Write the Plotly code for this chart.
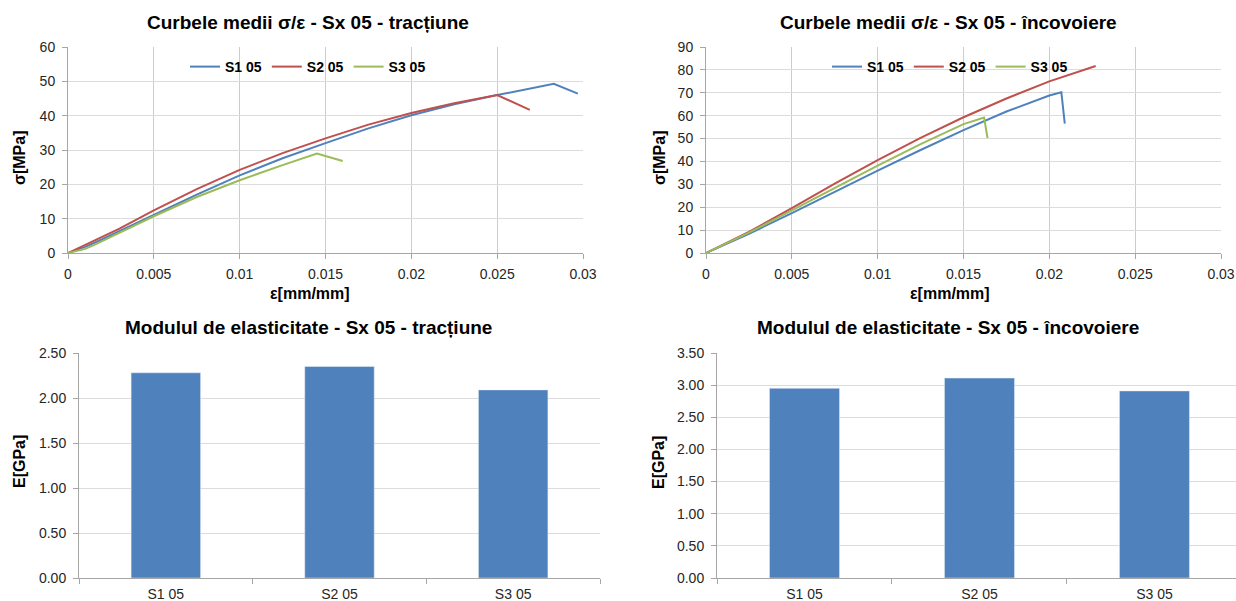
import plotly.graph_objects as go

# tension (tracțiune) curves, strain [mm/mm] vs stress [MPa]
t_s1_x = [0, 0.001, 0.002, 0.003, 0.005, 0.0075, 0.01, 0.0125, 0.015, 0.0175, 0.02, 0.0225, 0.025, 0.0283, 0.0297]
t_s1_y = [0, 1.8, 4.0, 6.4, 11.1, 17.0, 22.6, 27.6, 32.0, 36.3, 40.1, 43.3, 46.0, 49.3, 46.4]
t_s2_x = [0, 0.001, 0.002, 0.003, 0.005, 0.0075, 0.01, 0.0125, 0.015, 0.0175, 0.02, 0.0225, 0.025, 0.0269]
t_s2_y = [0, 2.3, 4.6, 7.1, 12.4, 18.6, 24.2, 29.1, 33.4, 37.4, 40.8, 43.6, 46.0, 41.7]
t_s3_x = [0, 0.001, 0.0015, 0.002, 0.003, 0.005, 0.0075, 0.01, 0.0125, 0.0145, 0.016]
t_s3_y = [0, 1.2, 2.3, 3.5, 5.9, 10.7, 16.3, 21.2, 25.6, 29.0, 26.8]

# bending (încovoiere) curves
b_s1_x = [0, 0.0025, 0.005, 0.0075, 0.01, 0.0125, 0.015, 0.0175, 0.02, 0.0207, 0.0209]
b_s1_y = [0, 8.4, 17.4, 26.8, 36.0, 45.0, 53.7, 61.8, 68.8, 70.2, 56.5]
b_s2_x = [0, 0.0025, 0.005, 0.0075, 0.01, 0.0125, 0.015, 0.0175, 0.02, 0.0227]
b_s2_y = [0, 9.2, 19.6, 30.3, 40.6, 50.3, 59.3, 67.5, 75.0, 81.7]
b_s3_x = [0, 0.0025, 0.005, 0.0075, 0.01, 0.0125, 0.015, 0.0162, 0.0164]
b_s3_y = [0, 8.9, 18.6, 28.5, 38.2, 47.6, 56.3, 59.2, 50.2]

samples = ["S1 05", "S2 05", "S3 05"]
e_tension = [2.28, 2.35, 2.09]
e_bending = [2.95, 3.11, 2.91]

colors = ["#4F81BD", "#C0504D", "#9BBB59"]
bar_color = "#4F81BD"
grid_h = "#DCDCDC"
grid_v = "#CCCCCC"
axis_col = "#A6A6A6"
font = "Liberation Sans, Arial, sans-serif"

W, H = 1236, 601


def px_x(a, b):
    return [a / W, min(b / W, 1)]


def px_y(top, bottom):
    return [1 - bottom / H, 1 - top / H]


fig = go.Figure()

tension = [(t_s1_x, t_s1_y), (t_s2_x, t_s2_y), (t_s3_x, t_s3_y)]
bending = [(b_s1_x, b_s1_y), (b_s2_x, b_s2_y), (b_s3_x, b_s3_y)]
for i, (x, y) in enumerate(tension):
    fig.add_scatter(x=x, y=y, mode="lines", name=samples[i],
                    line=dict(color=colors[i], width=2),
                    xaxis="x", yaxis="y", legend="legend")
for i, (x, y) in enumerate(bending):
    fig.add_scatter(x=x, y=y, mode="lines", name=samples[i],
                    line=dict(color=colors[i], width=2),
                    xaxis="x2", yaxis="y2", legend="legend2")

fig.add_bar(x=samples, y=e_tension, marker=dict(color=bar_color), width=0.4,
            xaxis="x3", yaxis="y3", showlegend=False)
fig.add_bar(x=samples, y=e_bending, marker=dict(color=bar_color), width=0.4,
            xaxis="x4", yaxis="y4", showlegend=False)

tickfont = dict(family=font, size=14, color="#262626")
titlefont = dict(family=font, size=16, color="#000000", weight="bold")

common_x = dict(showgrid=True, gridcolor=grid_v, showline=True, linecolor=axis_col,
                ticks="outside", ticklen=5, tickcolor=axis_col, tickfont=tickfont,
                zeroline=False, automargin=False, ticklabelstandoff=3)
common_y = dict(showgrid=True, gridcolor=grid_h, showline=True, linecolor=axis_col,
                ticks="outside", ticklen=5, tickcolor=axis_col, tickfont=tickfont,
                zeroline=False, automargin=False, ticklabelstandoff=4)
cat = dict(showgrid=False, showline=True, linecolor=axis_col, ticks="outside",
           tickson="boundaries", ticklen=5, tickcolor=axis_col, tickfont=tickfont,
           automargin=False, ticklabelstandoff=3)

fig.update_layout(
    xaxis=dict(common_x, domain=px_x(68, 583), range=[0, 0.03], dtick=0.005, anchor="y"),
    yaxis=dict(common_y, domain=px_y(47, 253), range=[0, 60], dtick=10, anchor="x"),
    xaxis2=dict(common_x, domain=px_x(706, 1221), range=[0, 0.03], dtick=0.005, anchor="y2"),
    yaxis2=dict(common_y, domain=px_y(47, 253), range=[0, 90], dtick=10, anchor="x2"),
    xaxis3=dict(cat, domain=px_x(79, 600), range=[-0.5, 2.5], anchor="y3"),
    yaxis3=dict(common_y, domain=px_y(353, 578), range=[0, 2.5], dtick=0.5,
                tickformat=".2f", anchor="x3"),
    # the right chart runs a little past the picture edge
    xaxis4=dict(cat, domain=px_x(717, 1236), range=[-0.5, 2.466], anchor="y4"),
    yaxis4=dict(common_y, domain=px_y(353, 578), range=[0, 3.5], dtick=0.5,
                tickformat=".2f", anchor="x4"),
    legend=dict(orientation="h", x=308 / W, y=1 - 67 / H, xanchor="center", yanchor="middle",
                font=dict(family=font, size=14, color="#000000", weight="bold"),
                bgcolor="rgba(0,0,0,0)", itemwidth=30, tracegroupgap=0),
    legend2=dict(orientation="h", x=950 / W, y=1 - 67 / H, xanchor="center", yanchor="middle",
                 font=dict(family=font, size=14, color="#000000", weight="bold"),
                 bgcolor="rgba(0,0,0,0)", itemwidth=30, tracegroupgap=0),
    width=W,
    height=H,
    margin=dict(l=0, r=0, t=0, b=0),
    paper_bgcolor="white",
    plot_bgcolor="white",
    font=dict(family=font),
)

titles = [
    ("Curbele medii σ/ε - Sx 05 - tracțiune", 308, 23),
    ("Curbele medii σ/ε - Sx 05 - încovoiere", 948, 23),
    ("Modulul de elasticitate - Sx 05 - tracțiune", 308, 327),
    ("Modulul de elasticitate - Sx 05 - încovoiere", 948, 327),
]
for text, cx, cy in titles:
    fig.add_annotation(text=text, x=cx / W, y=1 - cy / H, xref="paper", yref="paper",
                       xanchor="center", yanchor="middle", showarrow=False,
                       font=dict(family=font, size=19, color="#000000", weight="bold"))

axis_titles = [
    ("σ[MPa]", 19, 158, -90),
    ("ε[mm/mm]", 310, 293, 0),
    ("σ[MPa]", 659, 158, -90),
    ("ε[mm/mm]", 950, 293, 0),
    ("E[GPa]", 19, 462, -90),
    ("E[GPa]", 658, 462, -90),
]
for text, cx, cy, ang in axis_titles:
    fig.add_annotation(text=text, x=cx / W, y=1 - cy / H, xref="paper", yref="paper",
                       xanchor="center", yanchor="middle", showarrow=False, textangle=ang,
                       font=titlefont)

# page body has a default 8px margin; drop it so the figure fills the window
fig.write_html("out.html", config={"displayModeBar": False},
               post_script="document.body.style.margin='0';"
                           "document.documentElement.style.overflow='hidden';")
